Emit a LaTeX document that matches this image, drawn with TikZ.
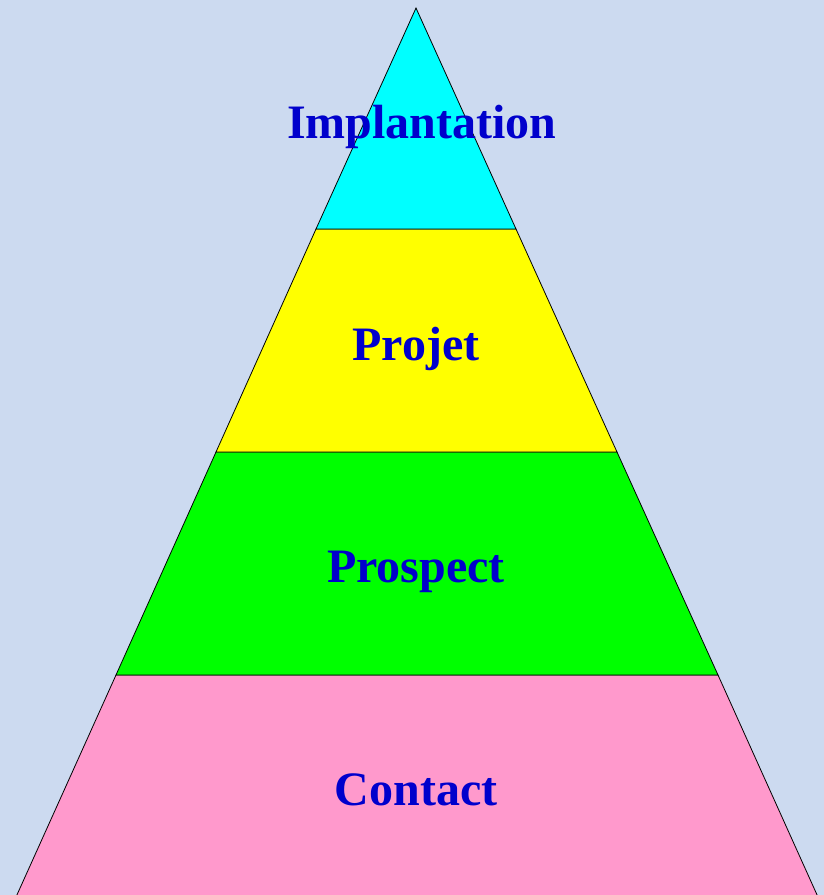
\documentclass[tikz,border=0pt]{standalone}
\usepackage{fontspec}
\setmainfont{Liberation Serif}
\usepackage{xcolor}
\definecolor{bgblue}{HTML}{CCDAF0}
\definecolor{lvlcyan}{HTML}{00FFFF}
\definecolor{lvlyellow}{HTML}{FFFF00}
\definecolor{lvlgreen}{HTML}{00FF00}
\definecolor{lvlpink}{HTML}{FF99CC}
\definecolor{labelblue}{HTML}{0000CC}

\begin{document}
\begin{tikzpicture}[
    x=1pt, y=-1pt,
    layer/.style={draw=black, line width=0.8pt, line join=miter},
    label/.style={anchor=base, font=\bfseries\fontsize{48}{50}\selectfont, text=labelblue, inner sep=0pt}
]
\fill[bgblue] (0,0) rectangle (824,895);
\useasboundingbox (0,0) rectangle (824,895);

% pyramid corners
\coordinate (apex) at (416,8);
\coordinate (l1) at (316,229); \coordinate (r1) at (516,229);
\coordinate (l2) at (216,452); \coordinate (r2) at (617,452);
\coordinate (l3) at (116,675); \coordinate (r3) at (718,675);
\coordinate (l4) at (16,897);  \coordinate (r4) at (818,897);

% layers
\filldraw[layer, fill=lvlpink] (l3) -- (r3) -- (r4) -- (l4) -- cycle;
\filldraw[layer, fill=lvlgreen] (l2) -- (r2) -- (r3) -- (l3) -- cycle;
\filldraw[layer, fill=lvlyellow] (l1) -- (r1) -- (r2) -- (l2) -- cycle;
\filldraw[layer, fill=lvlcyan] (apex) -- (r1) -- (l1) -- cycle;

% labels
\node[label] (implantation) at (422,138) {Implantation};
\node[label] (projet) at (416,360) {Projet};
\node[label] (prospect) at (416,582) {Prospect};
\node[label] (contact) at (416,805) {Contact};
\end{tikzpicture}
\end{document}
